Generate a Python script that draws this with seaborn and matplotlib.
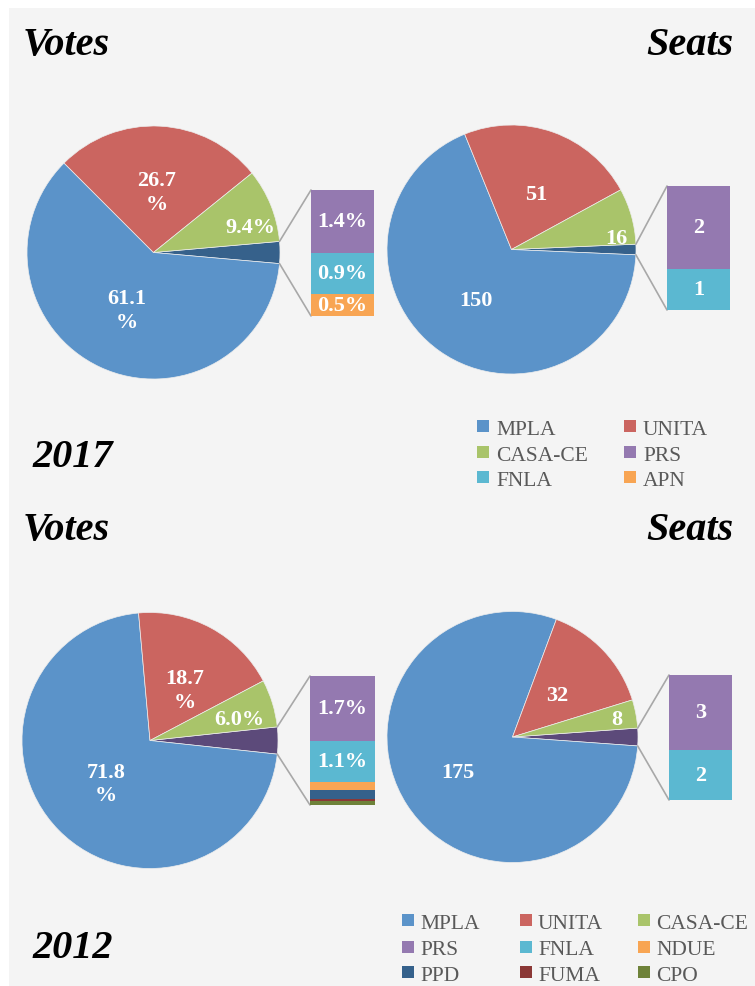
import matplotlib
matplotlib.use("Agg")
import matplotlib.pyplot as plt
import numpy as np
import seaborn as sns
from matplotlib.patches import Rectangle

sns.set_theme(style="white")
plt.rcParams['font.family'] = ['Liberation Serif', 'DejaVu Serif']

# data
parties_2017 = ['MPLA', 'UNITA', 'CASA-CE', 'PRS', 'FNLA', 'APN']
votes_2017 = [61.1, 26.7, 9.4, 1.4, 0.9, 0.5]
seats_2017 = [150, 51, 16, 2, 1, 0]

parties_2012 = ['MPLA', 'UNITA', 'CASA-CE', 'PRS', 'FNLA', 'NDUE', 'PPD', 'FUMA', 'CPO']
votes_2012 = [71.8, 18.7, 6.0, 1.7, 1.1, 0.21, 0.22, 0.07, 0.10]
seats_2012 = [175, 32, 8, 3, 2, 0, 0, 0, 0]

party_colors = {
    'MPLA': '#5B93C9', 'UNITA': '#CB6560', 'CASA-CE': '#A9C46A',
    'PRS': '#9479B0', 'FNLA': '#5BB8D1', 'APN': '#F8A553',
    'NDUE': '#F8A553', 'PPD': '#35618B', 'FUMA': '#8B3836', 'CPO': '#6E8239',
}
other_2017 = '#36618B'
other_2012 = '#5C4A7A'

W, H = 755, 987


def Y(y):
    # layout numbers are measured from the top of the picture
    return H - y


def pie_of_pie(ax, names, values, other_color, center, radius, bar_box,
               is_pct, wrap, label_r, label_t):
    big = values[:3]
    small = values[3:]
    other = sum(small)
    sizes = [other] + list(big)
    colors = [other_color] + [party_colors[n] for n in names[:3]]
    cx, cy = center
    start = 180.0 * other / sum(sizes)
    wedges, _ = ax.pie(sizes, colors=colors, startangle=start, counterclock=False,
                       center=(cx, Y(cy)), radius=radius, frame=True,
                       wedgeprops=dict(edgecolor='#EDEDED', linewidth=0.5))

    # labels inside the main slices
    for i, w in enumerate(wedges[1:]):
        v = big[i]
        ang = np.deg2rad(w.theta2 - label_t[i] * (w.theta2 - w.theta1))
        px = cx + label_r[i] * radius * np.cos(ang)
        py = Y(cy) + label_r[i] * radius * np.sin(ang)
        if is_pct:
            txt = f'{v:.1f}\n%' if wrap[i] else f'{v:.1f}%'
        else:
            txt = f'{v:d}'
        ax.text(px, py, txt, ha='center', va='center', color='white',
                fontsize=16, fontweight='bold', linespacing=1.25, zorder=5)

    # stacked bar with the small parties
    x0, x1, top, bottom = bar_box
    scale = (bottom - top) / other
    level = Y(top)
    for n, v in zip(names[3:], small):
        h = v * scale
        ax.bar(x0, h, width=x1 - x0, bottom=level - h, align='edge',
               color=party_colors[n], linewidth=0, zorder=3)
        if h >= 14:
            txt = f'{v:.1f}%' if is_pct else f'{v:d}'
            ax.text((x0 + x1) / 2, level - h / 2, txt, ha='center', va='center',
                    color='white', fontsize=16, fontweight='bold', zorder=5)
        level -= h

    # connector lines
    w0 = wedges[0]
    for theta, by in [(w0.theta2, Y(top)), (w0.theta1, Y(bottom))]:
        a = np.deg2rad(theta)
        ax.plot([cx + radius * np.cos(a), x0], [Y(cy) + radius * np.sin(a), by],
                color='#A8A8A8', linewidth=1.2, zorder=2)


def legend_block(ax, names, col_x, row_y, text_dx):
    ncol = len(col_x)
    for k, n in enumerate(names):
        r, c = divmod(k, ncol)
        mx, my = col_x[c], row_y[r]
        ax.add_patch(Rectangle((mx, Y(my) - 6), 12, 12, color=party_colors[n],
                               linewidth=0, zorder=3))
        ax.text(mx + text_dx, Y(my + 8), n, ha='left', va='baseline',
                fontsize=15.5, color='#595959', zorder=3)


fig = plt.figure(figsize=(W / 100, H / 100), dpi=100, facecolor='white')
ax = fig.add_axes([0, 0, 1, 1])
ax.set_autoscale_on(False)
ax.set_xlim(0, W)
ax.set_ylim(0, H)
ax.axis('off')
ax.add_patch(Rectangle((9, 0), W - 9, H - 9, color='#F4F4F4', linewidth=0, zorder=0))

title_kw = dict(fontsize=29, fontweight='bold', fontstyle='italic', color='black',
                va='baseline')
ax.text(23, Y(55), 'Votes', ha='left', **title_kw)
ax.text(733, Y(55), 'Seats', ha='right', **title_kw)
ax.text(32, Y(467), '2017', ha='left', **title_kw)
ax.text(23, Y(540), 'Votes', ha='left', **title_kw)
ax.text(733, Y(540), 'Seats', ha='right', **title_kw)
ax.text(32, Y(958), '2012', ha='left', **title_kw)

pie_of_pie(ax, parties_2017, votes_2017, other_2017, (153.5, 253.5), 126.5,
           (311, 374, 191, 317), True, [True, True, False],
           [0.5, 0.48, 0.79], [0.5, 0.5, 0.72])
pie_of_pie(ax, parties_2017, seats_2017, other_2017, (511.5, 250.5), 124.5,
           (667, 730, 187, 311), False, [False, False, False],
           [0.5, 0.49, 0.85], [0.5, 0.55, 0.85])
pie_of_pie(ax, parties_2012, votes_2012, other_2012, (150, 741.5), 128,
           (310, 375, 677, 806), True, [True, True, False],
           [0.48, 0.48, 0.72], [0.5, 0.59, 0.66])
pie_of_pie(ax, parties_2012, seats_2012, other_2012, (512.5, 738), 125.5,
           (669, 732, 676, 801), False, [False, False, False],
           [0.52, 0.49, 0.84], [0.5, 0.5, 0.57])

legend_block(ax, parties_2017, [477, 624], [427, 453, 478], 19)
legend_block(ax, parties_2012, [402, 520, 638], [921, 947.5, 973], 18)

ax.set_xlim(0, W)
ax.set_ylim(0, H)
fig.savefig('out.png', dpi=100, facecolor='white')
